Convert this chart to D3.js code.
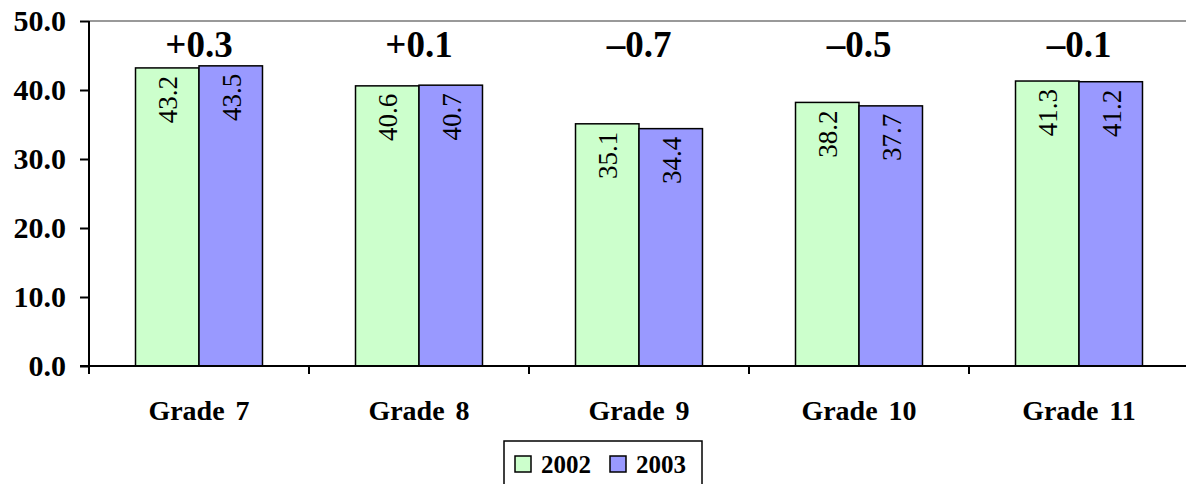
<!DOCTYPE html>
<html>
<head>
<meta charset="utf-8">
<script src="https://cdn.jsdelivr.net/npm/d3@7"></script>
<style>
  body { margin: 0; background: #fff; }
  text { font-family: "Liberation Serif", "Times New Roman", serif; }
</style>
</head>
<body>
<div id="chart"></div>
<script>
const grades = ["Grade 7", "Grade 8", "Grade 9", "Grade 10", "Grade 11"];
const years = ["2002", "2003"];
const values2002 = [43.2, 40.6, 35.1, 38.2, 41.3];
const values2003 = [43.5, 40.7, 34.4, 37.7, 41.2];
const changes = ["+0.3", "+0.1", "\u20130.7", "\u20130.5", "\u20130.1"];
const yTicks = [0, 10, 20, 30, 40, 50];
const colors = ["#ccffcc", "#9999ff"];

const width = 1186;
const height = 484;
const margin = { left: 89, right: -3, top: 21, bottom: 118 };
const serif = "Liberation Serif, Times New Roman, serif";

const svg = d3.select("#chart")
    .append("svg")
    .attr("width", width)
    .attr("height", height);

const x = d3.scaleBand()
    .domain(grades)
    .range([margin.left, width - margin.right])
    .paddingInner(0)
    .paddingOuter(0);

const y = d3.scaleLinear()
    .domain([0, 50])
    .range([height - margin.bottom, margin.top]);

const barW = x.bandwidth() * 0.2886;

// top border of plot area
svg.append("line")
    .attr("x1", margin.left).attr("x2", width)
    .attr("y1", y(50)).attr("y2", y(50))
    .attr("stroke", "#999").attr("stroke-width", 2);

// bars
const series = [values2002, values2003];
const groups = svg.append("g");
grades.forEach((g, i) => {
    const cx = x(g) + x.bandwidth() / 2;
    series.forEach((vals, s) => {
        const bx = cx - barW + s * barW;
        groups.append("rect")
            .attr("x", bx)
            .attr("y", y(vals[i]))
            .attr("width", barW)
            .attr("height", y(0) - y(vals[i]))
            .attr("fill", colors[s])
            .attr("stroke", "#000")
            .attr("stroke-width", 1.5);
        groups.append("text")
            .attr("transform", `translate(${bx + barW / 2 + 10},${y(vals[i]) + 8}) rotate(-90)`)
            .attr("text-anchor", "end")
            .attr("font-family", serif)
            .attr("font-size", 27)
            .text(vals[i].toFixed(1));
    });
    svg.append("text")
        .attr("x", cx)
        .attr("y", 57)
        .attr("text-anchor", "middle")
        .attr("font-family", serif)
        .attr("font-size", 37)
        .attr("font-weight", "bold")
        .text(changes[i]);
});

// y axis
const yAxis = svg.append("g")
    .attr("transform", `translate(${margin.left},0)`)
    .call(d3.axisLeft(y).tickValues(yTicks).tickSize(9).tickPadding(14).tickFormat(d3.format(".1f")));
yAxis.select(".domain").remove();
yAxis.selectAll(".tick line").attr("stroke", "#000").attr("stroke-width", 2);
yAxis.selectAll("text")
    .attr("font-size", 30)
    .attr("font-weight", "bold")
    .attr("font-family", serif)
    .attr("fill", "#000");
yAxis.append("line")
    .attr("x1", 0).attr("x2", 0)
    .attr("y1", y(50)).attr("y2", y(0) + 8)
    .attr("stroke", "#000").attr("stroke-width", 2);

// x axis
const xAxis = svg.append("g");
xAxis.append("line")
    .attr("x1", margin.left - 9).attr("x2", width)
    .attr("y1", y(0)).attr("y2", y(0))
    .attr("stroke", "#000").attr("stroke-width", 2);
grades.forEach((g, i) => {
    if (i > 0) {
        xAxis.append("line")
            .attr("x1", x(g)).attr("x2", x(g))
            .attr("y1", y(0)).attr("y2", y(0) + 8)
            .attr("stroke", "#000").attr("stroke-width", 2);
    }
    xAxis.append("text")
        .attr("x", x(g) + x.bandwidth() / 2)
        .attr("y", 420)
        .attr("text-anchor", "middle")
        .attr("font-family", serif)
        .attr("font-size", 28)
        .attr("font-weight", "bold")
        .attr("word-spacing", 4)
        .text(g);
});

// legend
const legend = svg.append("g");
legend.append("rect")
    .attr("x", 504).attr("y", 441)
    .attr("width", 198).attr("height", 60)
    .attr("fill", "#fff")
    .attr("stroke", "#000").attr("stroke-width", 1.5);
const legendX = [515, 610];
years.forEach((yr, s) => {
    legend.append("rect")
        .attr("x", legendX[s]).attr("y", 456)
        .attr("width", 16).attr("height", 16)
        .attr("fill", colors[s])
        .attr("stroke", "#000").attr("stroke-width", 1.5);
    legend.append("text")
        .attr("x", legendX[s] + 26)
        .attr("y", 473)
        .attr("font-family", serif)
        .attr("font-size", 25)
        .attr("font-weight", "bold")
        .text(yr);
});
</script>
</body>
</html>
